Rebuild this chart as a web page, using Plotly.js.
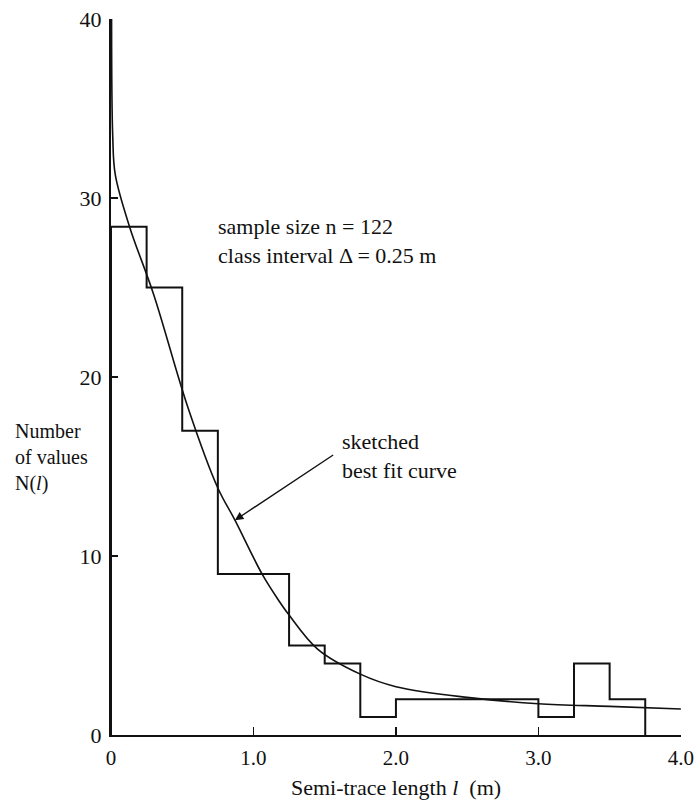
<!DOCTYPE html>
<html>
<head>
<meta charset="utf-8">
<script src="https://cdn.plot.ly/plotly-3.0.1.min.js"></script>
<style>
  html, body { margin: 0; padding: 0; background: #fff; }
  #chart { width: 696px; height: 810px; }
</style>
</head>
<body>
<div id="chart"></div>
<script>
// Histogram: class interval 0.25 m, left edges of the bins
var binLeftEdges = [0, 0.25, 0.5, 0.75, 1.0, 1.25, 1.5, 1.75, 2.0, 2.25, 2.5, 2.75, 3.0, 3.25, 3.5];
var binCounts    = [28.4, 25, 17, 9, 9, 5, 4, 1, 2, 2, 2, 2, 1, 4, 2];
var binWidth = 0.25;

// Sketched best-fit curve
var curveX = [0.004, 0.012, 0.03, 0.13, 0.3, 0.54, 0.75, 0.87, 1.06, 1.17, 1.25, 1.45, 1.75, 2.0, 2.5, 3.0, 3.5, 4.0];
var curveY = [40, 33.5, 31.3, 28.4, 24.6, 18.3, 13.8, 12.0, 9.0, 7.6, 6.7, 4.8, 3.4, 2.7, 2.1, 1.75, 1.6, 1.45];

var xTickVals = [0, 1, 2, 3, 4];
var xTickText = ['0', '1.0', '2.0', '3.0', '4.0'];
var yTickVals = [0, 10, 20, 30, 40];
var yTickText = ['0', '10', '20', '30', '40'];

// build step outline from bins
var stepX = [binLeftEdges[0]];
var stepY = [0];
for (var i = 0; i < binLeftEdges.length; i++) {
  stepX.push(binLeftEdges[i]);
  stepY.push(binCounts[i]);
}
stepX.push(binLeftEdges[binLeftEdges.length - 1] + binWidth);
stepY.push(0);

var FONT = 'Liberation Serif, Times New Roman, serif';
var INK = '#111';

var traces = [
  {
    x: stepX, y: stepY, mode: 'lines', type: 'scatter',
    line: { shape: 'hv', color: INK, width: 2 },
    hoverinfo: 'skip', showlegend: false, cliponaxis: false
  },
  {
    x: curveX, y: curveY, mode: 'lines', type: 'scatter',
    line: { shape: 'spline', smoothing: 1, color: INK, width: 1.6 },
    hoverinfo: 'skip', showlegend: false, cliponaxis: false
  }
];

var layout = {
  width: 696, height: 810,
  margin: { l: 111, r: 15, t: 19, b: 75 },
  paper_bgcolor: '#fff', plot_bgcolor: '#fff',
  showlegend: false,
  font: { family: FONT, color: INK, size: 22 },
  xaxis: {
    range: [0, 4.001], showgrid: false, zeroline: false,
    showline: true, linecolor: INK, linewidth: 2,
    ticks: 'inside', ticklen: 8, tickwidth: 1.5, tickcolor: INK,
    tickvals: xTickVals, ticktext: xTickText,
    ticklabelstandoff: 3,
    ticklabeloverflow: 'allow',
    tickfont: { family: FONT, size: 21, color: INK },
    title: { text: 'Semi-trace length <i>l</i>  (m)', font: { family: FONT, size: 22, color: INK }, standoff: 10 },
    automargin: false,
    fixedrange: true
  },
  yaxis: {
    range: [0, 40], showgrid: false, zeroline: false,
    showline: true, linecolor: INK, linewidth: 2,
    ticks: 'inside', ticklen: 7, tickwidth: 1.5, tickcolor: INK,
    tickvals: yTickVals, ticktext: yTickText,
    ticklabelstandoff: 3,
    ticklabeloverflow: 'allow',
    tickfont: { family: FONT, size: 22, color: INK },
    automargin: false,
    fixedrange: true
  },
  annotations: [
    {
      xref: 'x', yref: 'y', x: 0.74, y: 27.6, xanchor: 'left', yanchor: 'middle',
      align: 'left', showarrow: false,
      text: 'sample size n = 122<br>class interval Δ = 0.25 m',
      font: { family: FONT, size: 22, color: INK }
    },
    {
      xref: 'x', yref: 'y', x: 1.61, y: 15.6, xanchor: 'left', yanchor: 'middle',
      align: 'left', showarrow: false,
      text: 'sketched<br>best fit curve',
      font: { family: FONT, size: 22, color: INK }
    },
    {
      xref: 'x', yref: 'y', axref: 'x', ayref: 'y',
      x: 0.87, y: 12.0, ax: 1.57, ay: 15.7,
      text: '', showarrow: true, arrowhead: 2, arrowsize: 1.2, arrowwidth: 1.4, arrowcolor: INK
    },
    {
      xref: 'paper', yref: 'y', x: -0.172, y: 15.5, xanchor: 'left', yanchor: 'middle',
      align: 'left', showarrow: false,
      text: 'Number<br>of values<br>N(<i>l</i>)',
      font: { family: FONT, size: 20, color: INK }
    }
  ]
};

Plotly.newPlot('chart', traces, layout, { displayModeBar: false, staticPlot: true });
</script>
</body>
</html>
